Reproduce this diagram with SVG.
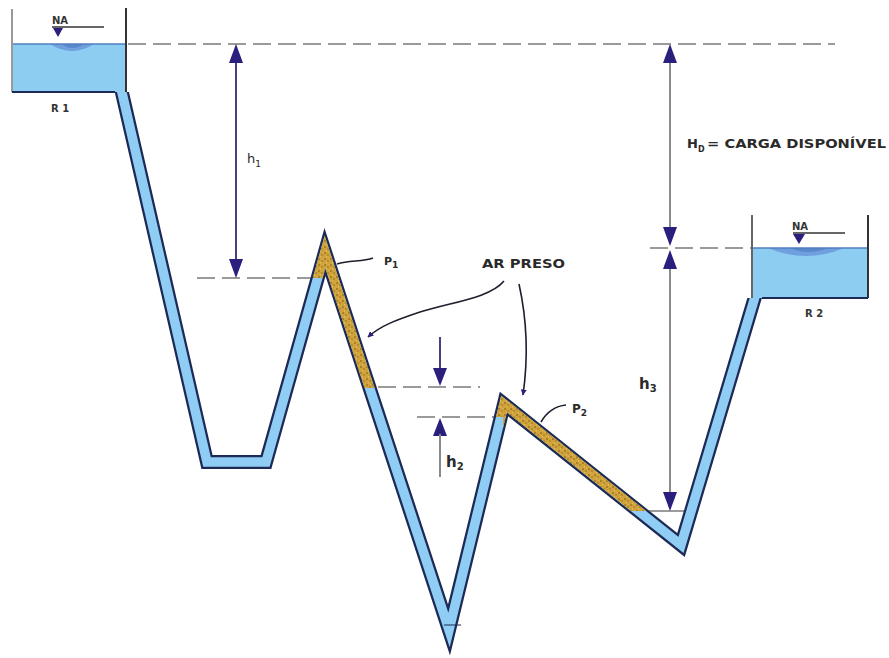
<svg xmlns="http://www.w3.org/2000/svg" width="889" height="658" viewBox="0 0 889 658">
  <defs>
    <style>
      .dash{stroke:#7a7a7a;stroke-width:1.3;stroke-dasharray:18 7;fill:none}
      .shaft{stroke:#4a3f7e;stroke-width:2;fill:none}
      .shaft-g{stroke:#8a8a8a;stroke-width:2;fill:none}
      .head{fill:#2b1f7e}
      .lbl{font-family:"DejaVu Sans","Liberation Sans",sans-serif;fill:#2a2a2a}
      .tag{font-family:"DejaVu Sans","Liberation Sans",sans-serif;font-weight:bold;fill:#333;font-size:10px}
      .leader{stroke:#1e1e2e;stroke-width:1.6;fill:none}
      .pipe-wall{fill:none;stroke:#1c2a55;stroke-width:14;stroke-linejoin:miter;stroke-miterlimit:6}
      .pipe-water{fill:none;stroke:#8fcdf4;stroke-width:9.5;stroke-linejoin:miter;stroke-miterlimit:6}
      .air{fill:none;stroke:url(#grit);stroke-width:9.5;stroke-linejoin:miter;stroke-miterlimit:6}
      .water{fill:#8dcdf2}
      .surface{stroke:#4f7fc0;stroke-width:1.6}
      .lens{fill:#6f9fdc}
      .wall-l{stroke:#9a9a9a;stroke-width:2}
      .wall-r{stroke:#333;stroke-width:2}
      .floor{stroke:#1c2a55;stroke-width:2}
    </style>
    <pattern id="grit" width="6" height="6" patternUnits="userSpaceOnUse">
      <rect width="6" height="6" fill="#cfa23c"/>
      <circle cx="1" cy="1" r="0.8" fill="#7d5a12"/>
      <circle cx="4" cy="3" r="0.7" fill="#8a6a1a"/>
      <circle cx="2.5" cy="4.8" r="0.6" fill="#f0d060"/>
      <circle cx="5" cy="0.5" r="0.5" fill="#e8c24a"/>
    </pattern>
    <clipPath id="below-tanks">
      <polygon points="0,92 200,92 200,0 700,0 700,298 889,298 889,658 0,658"/>
    </clipPath>
    <clipPath id="pocket1">
      <polygon points="280,190 390,190 390,388 326,388 326,278 280,278"/>
    </clipPath>
    <clipPath id="pocket2">
      <polygon points="488,380 700,380 700,511 503,511 503,417 488,417"/>
    </clipPath>
    <marker id="tip" viewBox="0 0 10 10" refX="9" refY="5" markerWidth="6" markerHeight="6" orient="auto" markerUnits="userSpaceOnUse">
      <path d="M0,0 L10,5 L0,10 z" fill="#2b1f7e"/>
    </marker>
  </defs>

  <rect width="889" height="658" fill="#ffffff"/>

  <!-- reference levels -->
  <g id="levels">
    <line class="dash" x1="128" y1="44" x2="835" y2="44"/>
    <line class="dash" x1="197" y1="278" x2="312" y2="278"/>
    <line class="dash" x1="378" y1="387" x2="480" y2="387"/>
    <line class="dash" x1="417" y1="417" x2="497" y2="417"/>
    <line class="dash" x1="650" y1="248" x2="752" y2="248"/>
    <line x1="640" y1="511" x2="684" y2="511" stroke="#7a7a7a" stroke-width="1.3"/>
  </g>

  <!-- upstream reservoir -->
  <g id="reservoir-r1">
    <rect class="water" x="12" y="44" width="114" height="48"/>
    <path class="lens" d="M50,44 Q72,58 94,44 Z"/>
    <path d="M62,44 Q72,52 84,44 Z" fill="#5a88cc"/>
    <line class="surface" x1="12" y1="44" x2="126" y2="44"/>
    <line class="wall-l" x1="12" y1="9" x2="12" y2="92"/>
    <line class="wall-r" x1="126" y1="8" x2="126" y2="92"/>
    <line class="floor" x1="12" y1="92" x2="115" y2="92"/>
    <line x1="52" y1="27" x2="104" y2="27" stroke="#333" stroke-width="1.6"/>
    <polygon class="head" points="53,28 63,28 58,37"/>
    <text class="tag" x="52" y="24">NA</text>
    <text class="tag" x="51" y="112">R 1</text>
  </g>

  <!-- downstream reservoir -->
  <g id="reservoir-r2">
    <rect class="water" x="752" y="248" width="116" height="50"/>
    <path class="lens" d="M768,248 Q806,264 844,248 Z"/>
    <path d="M790,248 Q808,256 828,248 Z" fill="#5a88cc"/>
    <line class="surface" x1="752" y1="248" x2="868" y2="248"/>
    <line class="wall-l" x1="752" y1="215" x2="752" y2="298" style="stroke:#666"/>
    <line class="wall-r" x1="868" y1="215" x2="868" y2="298"/>
    <line class="floor" x1="762" y1="298" x2="868" y2="298"/>
    <line x1="793" y1="233" x2="845" y2="233" stroke="#333" stroke-width="1.6"/>
    <polygon class="head" points="793,234 805,234 799,244"/>
    <text class="tag" x="792" y="230">NA</text>
    <text class="tag" x="805" y="317">R 2</text>
  </g>

  <!-- pipeline -->
  <g id="pipeline" clip-path="url(#below-tanks)">
    <polyline class="pipe-wall" points="120,84 207,462 266,462 325,252 449,630 504,404 681,545 757,290"/>
    <polyline class="pipe-water" points="120,84 207,462 266,462 325,252 449,630 504,404 681,545 757,290"/>
    <line x1="444" y1="625" x2="461" y2="625" stroke="#1c2a55" stroke-width="1"/>
  </g>

  <!-- trapped air pockets -->
  <g id="air-p1" clip-path="url(#pocket1)">
    <polyline class="air" points="311.5,300 325,252 373.5,400"/>
  </g>
  <g id="air-p2" clip-path="url(#pocket2)">
    <polyline class="air" points="497.7,430 504,404 660,528"/>
  </g>

  <!-- dimension lines and leaders -->
  <g id="connectors">
    <!-- h1 -->
    <line class="shaft" x1="236" y1="60" x2="236" y2="262"/>
    <polygon class="head" points="236,44 229,63 243,63"/>
    <polygon class="head" points="236,278 229,259 243,259"/>
    <!-- H0 -->
    <line class="shaft-g" x1="670" y1="60" x2="670" y2="230"/>
    <polygon class="head" points="670,44 663,63 677,63"/>
    <polygon class="head" points="670,246 663,227 677,227"/>
    <!-- h3 -->
    <line class="shaft-g" x1="670" y1="266" x2="670" y2="496"/>
    <polygon class="head" points="670,250 663,269 677,269"/>
    <polygon class="head" points="670,511 663,492 677,492"/>
    <!-- h2 -->
    <line class="shaft" x1="440" y1="337" x2="440" y2="372"/>
    <polygon class="head" points="440,386 433,368 447,368"/>
    <polygon class="head" points="440,418 433,436 447,436"/>
    <line class="shaft-g" x1="440" y1="434" x2="440" y2="477"/>
    <!-- leaders -->
    <path class="leader" d="M504,281 C490,298 452,302 420,312 C396,320 380,326 368,337" marker-end="url(#tip)"/>
    <path class="leader" d="M519,284 C527,320 528,360 523,395" marker-end="url(#tip)"/>
    <path class="leader" d="M337,264 C350,260 362,262 373,258"/>
    <path class="leader" d="M541,422 C548,410 556,406 566,405"/>
  </g>

  <!-- labels -->
  <g id="labels">
    <text class="lbl" x="247" y="163" font-size="13">h<tspan font-size="9" dy="4">1</tspan></text>
    <text class="lbl" x="446" y="467" font-size="15" font-weight="bold">h<tspan font-size="10" dy="3">2</tspan></text>
    <text class="lbl" x="639" y="389" font-size="15" font-weight="bold">h<tspan font-size="10" dy="3">3</tspan></text>
    <text class="lbl" x="384" y="265" font-size="11" font-weight="bold">P<tspan font-size="9" dy="3">1</tspan></text>
    <text class="lbl" x="572" y="413" font-size="12" font-weight="bold">P<tspan font-size="9" dy="3">2</tspan></text>
    <text class="lbl" x="482" y="268" font-size="12" font-weight="bold" textLength="83" lengthAdjust="spacingAndGlyphs">AR PRESO</text>
    <text class="lbl" x="687" y="148" font-size="13" font-weight="bold">H<tspan font-size="8" dy="4">D</tspan></text>
    <text class="lbl" x="707" y="148" font-size="13" font-weight="bold" textLength="179" lengthAdjust="spacingAndGlyphs">= CARGA DISPONÍVEL</text>
  </g>
</svg>
